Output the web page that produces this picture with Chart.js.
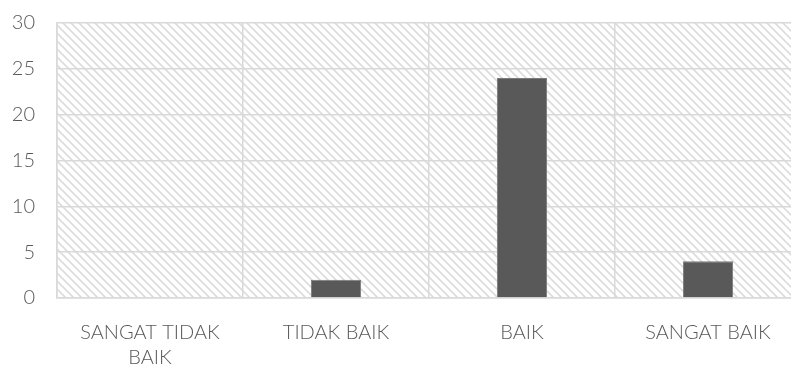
<!DOCTYPE html>
<html>
<head>
<meta charset="utf-8">
<script src="https://cdn.jsdelivr.net/npm/chart.js@4/dist/chart.umd.min.js"></script>
<style>
    html, body { margin: 0; padding: 0; background: #fff; overflow: hidden; }
    #wrap { width: 801px; height: 366px; }
</style>
</head>
<body>
<div id="wrap"><canvas id="bar-chart" width="801" height="366"></canvas></div>
<script>
const categories = [['SANGAT TIDAK', 'BAIK'], 'TIDAK BAIK', 'BAIK', 'SANGAT BAIK'];
const counts = [0, 2, 24, 4];
const yTicks = [0, 5, 10, 15, 20, 25, 30];

const gridColor = '#d9d9d9';
const textColor = '#595959';

// diagonal hatch tile for the plot background
function makeHatch(ctx) {
    const size = 8;
    const tile = document.createElement('canvas');
    tile.width = size;
    tile.height = size;
    const t = tile.getContext('2d');
    t.strokeStyle = '#dcdcdc';
    t.lineWidth = 1.6;
    t.beginPath();
    t.moveTo(-1, -1);
    t.lineTo(size + 1, size + 1);
    t.moveTo(-1, size - 1);
    t.lineTo(1, size + 1);
    t.moveTo(size - 1, -1);
    t.lineTo(size + 1, 1);
    t.stroke();
    return ctx.createPattern(tile, 'repeat');
}

const hatchBackground = {
    id: 'hatchBackground',
    beforeDraw(chart) {
        const { ctx, chartArea } = chart;
        ctx.save();
        ctx.fillStyle = makeHatch(ctx);
        ctx.fillRect(chartArea.left, chartArea.top, chartArea.right - chartArea.left, chartArea.bottom - chartArea.top);
        ctx.restore();
    }
};

new Chart(document.getElementById('bar-chart'), {
    type: 'bar',
    data: {
        labels: categories,
        datasets: [{
            data: counts,
            backgroundColor: '#595959',
            borderColor: '#7a7a7a',
            borderWidth: 1,
            barPercentage: 0.27,
            categoryPercentage: 1
        }]
    },
    options: {
        responsive: false,
        animation: false,
        layout: { padding: { top: 23, right: 0 } },
        plugins: {
            legend: { display: false },
            tooltip: { enabled: false }
        },
        scales: {
            x: {
                grid: { color: gridColor, lineWidth: 1.5, drawTicks: false, offset: true },
                border: { color: gridColor, width: 1.5 },
                ticks: {
                    color: textColor,
                    padding: 22,
                    maxRotation: 0,
                    font: { family: 'Lato', size: 20, weight: 300, lineHeight: 1.25 }
                },
                afterFit(scale) { scale.height = 68; }
            },
            y: {
                min: 0,
                max: 30,
                afterBuildTicks(scale) { scale.ticks = yTicks.map(v => ({ value: v })); },
                grid: { color: gridColor, lineWidth: 1.5, drawTicks: false },
                border: { color: gridColor, width: 1.5 },
                ticks: {
                    color: textColor,
                    padding: 22,
                    font: { family: 'Lato', size: 20, weight: 300 }
                },
                afterFit(scale) {
                    scale.width = 57;
                    scale.paddingTop = 0;
                    scale.paddingBottom = 0;
                }
            }
        }
    },
    plugins: [hatchBackground]
});
</script>
</body>
</html>
